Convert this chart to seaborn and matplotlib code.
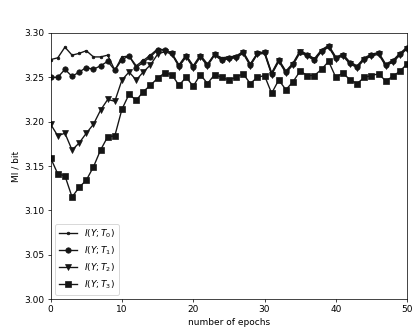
import numpy as np
import pandas as pd
import seaborn as sns
from matplotlib import pyplot as plt

epochs = list(range(51))

mi_t0 = [3.270, 3.272, 3.284, 3.275, 3.277, 3.280, 3.273, 3.273, 3.275, 3.258,
         3.273, 3.274, 3.263, 3.269, 3.275, 3.282, 3.281, 3.277, 3.264, 3.275,
         3.263, 3.275, 3.265, 3.276, 3.272, 3.273, 3.274, 3.279, 3.265, 3.277,
         3.279, 3.255, 3.270, 3.257, 3.266, 3.280, 3.276, 3.271, 3.281, 3.286,
         3.273, 3.276, 3.267, 3.263, 3.272, 3.276, 3.278, 3.265, 3.269, 3.277,
         3.284]
mi_t1 = [3.250, 3.250, 3.259, 3.251, 3.256, 3.261, 3.259, 3.263, 3.268, 3.258,
         3.270, 3.274, 3.261, 3.267, 3.273, 3.281, 3.281, 3.277, 3.263, 3.274,
         3.262, 3.274, 3.264, 3.276, 3.270, 3.272, 3.273, 3.278, 3.264, 3.277,
         3.278, 3.254, 3.269, 3.256, 3.265, 3.279, 3.275, 3.270, 3.280, 3.285,
         3.272, 3.275, 3.266, 3.262, 3.271, 3.275, 3.277, 3.264, 3.268, 3.276,
         3.283]
mi_t2 = [3.197, 3.184, 3.187, 3.168, 3.176, 3.187, 3.197, 3.213, 3.225, 3.223,
         3.247, 3.256, 3.247, 3.256, 3.264, 3.276, 3.279, 3.276, 3.262, 3.273,
         3.261, 3.273, 3.263, 3.275, 3.269, 3.271, 3.272, 3.277, 3.263, 3.276,
         3.277, 3.253, 3.268, 3.255, 3.264, 3.278, 3.274, 3.269, 3.279, 3.284,
         3.271, 3.274, 3.265, 3.261, 3.270, 3.274, 3.276, 3.263, 3.267, 3.275,
         3.282]
mi_t3 = [3.159, 3.141, 3.139, 3.115, 3.126, 3.134, 3.149, 3.168, 3.183, 3.184,
         3.214, 3.231, 3.224, 3.234, 3.241, 3.249, 3.255, 3.253, 3.241, 3.250,
         3.240, 3.253, 3.243, 3.253, 3.250, 3.247, 3.250, 3.254, 3.243, 3.250,
         3.252, 3.232, 3.247, 3.236, 3.245, 3.257, 3.252, 3.252, 3.259, 3.268,
         3.250, 3.255, 3.247, 3.243, 3.250, 3.252, 3.254, 3.246, 3.251, 3.257,
         3.265]

labels = ["$I(Y;T_0)$", "$I(Y;T_1)$", "$I(Y;T_2)$", "$I(Y;T_3)$"]
markers = [".", "o", "v", "s"]

fig = plt.figure(figsize=(412 / 65, 333 / 65), dpi=65)
ax = fig.add_axes([0.123, 0.102, 0.865, 0.799])

for vals, lab, mk in zip([mi_t0, mi_t1, mi_t2, mi_t3], labels, markers):
    sns.lineplot(x=epochs, y=vals, ax=ax, color="#151515", marker=mk,
                 markeredgecolor="#151515", markersize=6, linewidth=1.5,
                 label=lab)

ax.set_xlim(0, 50)
ax.set_ylim(3.00, 3.30)
ax.set_xlabel("number of epochs")
ax.set_ylabel("MI / bit")
ax.legend(loc="lower left")

plt.savefig("out.png", dpi=65)
plt.close()
